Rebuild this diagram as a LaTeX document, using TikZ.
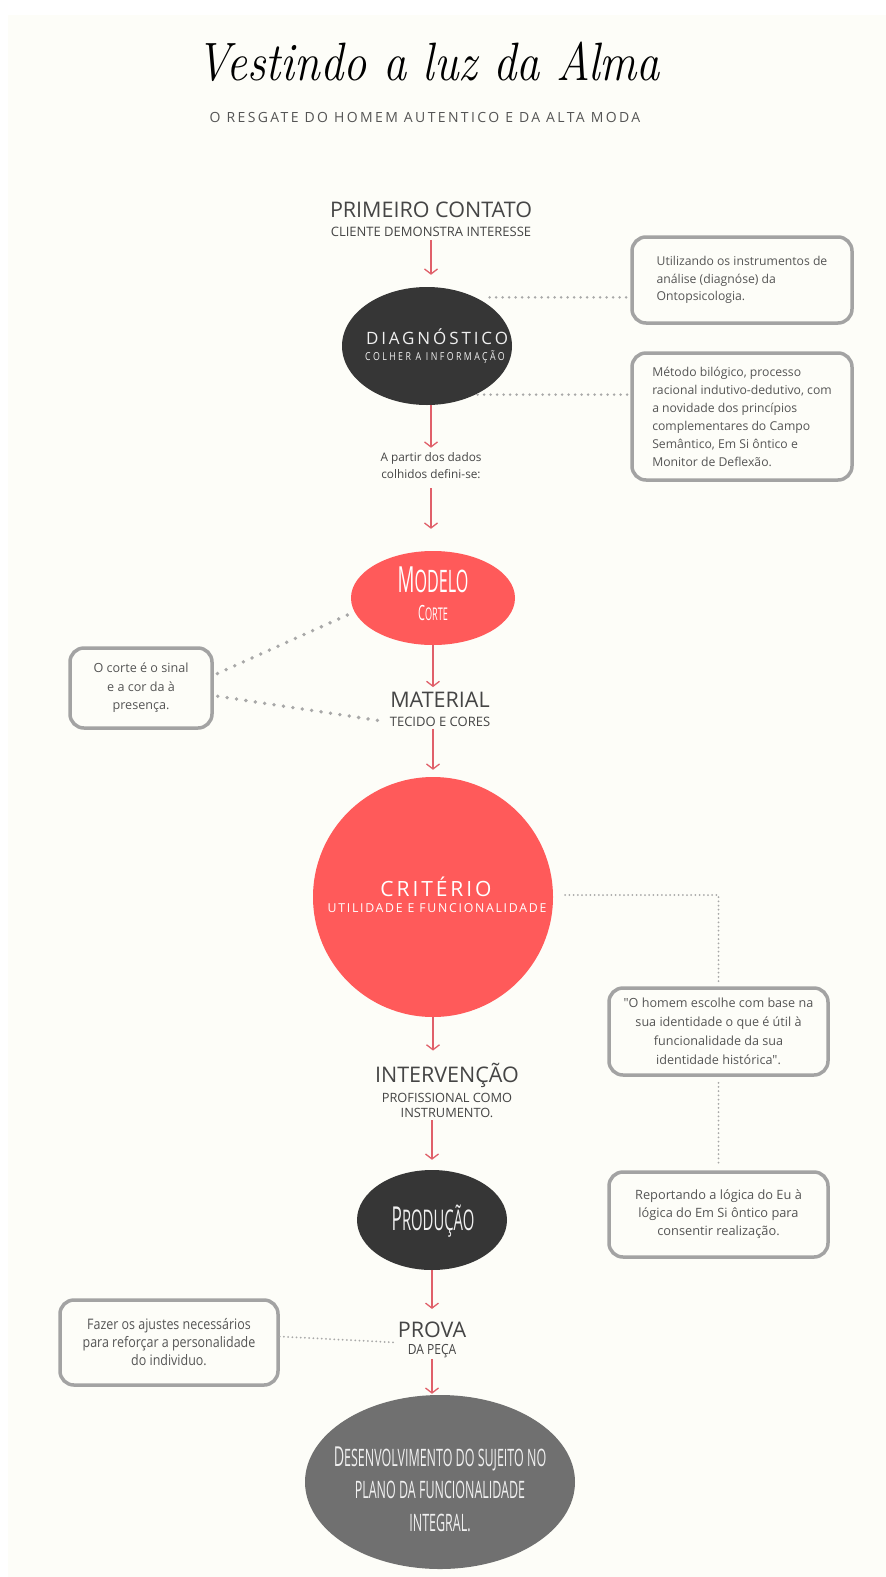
\documentclass[tikz,border=0pt]{standalone}
\usepackage{fontspec}
\usetikzlibrary{shapes.geometric,arrows.meta}
\newfontfamily\osans{Open Sans}
\newfontfamily\amatic[FakeStretch=0.52]{Open Sans}
\newfontfamily\spaced[LetterSpace=17]{Open Sans}
\newfontfamily\wide[LetterSpace=17]{Open Sans}
\newfontfamily\crit[LetterSpace=14]{Open Sans}
\newfontfamily\colher[FakeStretch=0.8,LetterSpace=22]{Open Sans}
\newfontfamily\narrow[FakeStretch=0.86]{Open Sans}
\definecolor{bg}{HTML}{FDFDF8}
\definecolor{coral}{HTML}{FF5A5A}
\definecolor{dark}{HTML}{363636}
\definecolor{midgray}{HTML}{707070}
\definecolor{arrowred}{HTML}{E0606A}
\definecolor{boxgray}{HTML}{A3A3A3}
\definecolor{dotgray}{HTML}{A8A8A8}
\definecolor{txt}{HTML}{454545}
\definecolor{boxtxt}{HTML}{555555}
\definecolor{light}{HTML}{F0F0F0}
\tikzset{
  flow/.style={arrowred, line width=1.3pt, -{Straight Barb[length=5pt,width=13pt]}},
  dotsthick/.style={dotgray, line width=3.8pt, line cap=round, dash pattern=on 0pt off 9.5pt},
  dotsmid/.style={dotgray, line width=2.8pt, line cap=round, dash pattern=on 0pt off 6.5pt},
  dotsfine/.style={dotgray, line width=2pt, line cap=round, dash pattern=on 0pt off 4.2pt},
  head/.style={text=txt, inner sep=1pt, font=\osans\fontsize{21.5}{23}\selectfont},
  subhead/.style={text=txt, inner sep=1pt, align=center, font=\osans\fontsize{13}{15}\selectfont},
  note/.style={draw=boxgray, line width=3.5pt, rounded corners=14pt, text=boxtxt, inner xsep=8pt, inner ysep=4pt},
  blob/.style={ellipse, inner sep=0pt},
}
\begin{document}
\begin{tikzpicture}[x=1pt,y=-1pt]
\useasboundingbox (0,0) rectangle (886,1577);
\fill[white] (0,0) rectangle (886,1577);
\fill[bg] (8,15) rectangle (886,1577);

% title
\node[anchor=base, inner sep=0pt, font=\itshape\fontsize{54}{56}\selectfont] (title) at (428,80) {\scalebox{0.86}[1]{Vestindo a luz da Alma}};
\node[inner sep=0pt, text=boxtxt, font=\spaced\fontsize{14}{16}\selectfont] (subtitle) at (425,117) {O RESGATE DO HOMEM AUTENTICO E DA ALTA MODA};

% primeiro contato
\node[head] (p1) at (431,210) {PRIMEIRO CONTATO};
\node[subhead] (p2) at (431,232) {CLIENTE DEMONSTRA INTERESSE};

% diagnostico
\node[blob, fill=dark, minimum width=170pt, minimum height=118pt] (diag) at (427,346) {};
\node[inner sep=0pt, text=light, font=\wide\fontsize{17}{18}\selectfont] (diagT) at (437,337) {DIAGNÓSTICO};
\node[inner sep=0pt, text=light, font=\colher\fontsize{11}{12}\selectfont] (diagS) at (435,357) {COLHER A INFORMAÇÃO};

% notes top right
\node[note, minimum width=220pt, minimum height=86pt, align=left, font=\osans\fontsize{12.2}{17.5}\selectfont] (b1) at (742,280) {Utilizando os instrumentos de\\análise (diagnóse) da\\Ontopsicologia.};
\node[note, minimum width=220pt, minimum height=127pt, align=left, font=\osans\fontsize{12.2}{18}\selectfont] (b2) at (742,416.5) {Método bilógico, processo\\racional indutivo-dedutivo, com\\a novidade dos princípios\\complementares do Campo\\Semântico, Em Si ôntico e\\Monitor de Deflexão.};

\draw[dotsmid, shorten <=14pt] (diag.45) -- (diag.45 -| b1.west);
\draw[dotsmid, shorten <=2pt] (diag.-45) -- (diag.-45 -| b2.west);

% a partir dos dados
\node[subhead, font=\osans\fontsize{11.8}{17}\selectfont] (apartir) at (431,466) {A partir dos dados\\colhidos defini-se:};

% modelo
\node[blob, fill=coral, minimum width=164pt, minimum height=94pt] (modelo) at (433,598) {};
\node[inner sep=0pt, text=white, font=\amatic] (modT) at (433,580) {\fontsize{36}{36}\selectfont M\fontsize{31}{36}\selectfont ODELO};
\node[inner sep=0pt, text=white, font=\amatic] (modS) at (433,613) {\fontsize{21}{22}\selectfont C\fontsize{17.5}{22}\selectfont ORTE};

% material
\node[head] (m1) at (440,700) {MATERIAL};
\node[subhead] (m2) at (440,722) {TECIDO E CORES};

% left note
\node[note, minimum width=142pt, minimum height=80pt, align=center, font=\osans\fontsize{12.6}{18.5}\selectfont] (lb) at (141,688) {O corte é o sinal\\e a cor da à\\presença.};
\draw[dotsthick, shorten <=4pt] (lb.10) -- (modelo.190);
\draw[dotsthick, shorten <=4pt, shorten >=2pt] (lb.-6) -- (m2.west);

% criterio
\node[circle, fill=coral, minimum size=240pt, inner sep=0pt] (crit) at (433,897) {};
\node[inner sep=0pt, text=white, font=\crit\fontsize{21}{22}\selectfont] (critT) at (436,887) {CRITÉRIO};
\node[inner sep=0pt, text=white, font=\crit\fontsize{12.3}{14}\selectfont] (critS) at (437,908) {UTILIDADE E FUNCIONALIDADE};

% right notes lower
\node[note, minimum width=219pt, minimum height=87pt, align=center, font=\osans\fontsize{12.6}{19}\selectfont] (b3) at (718.5,1031.5) {"O homem escolhe com base na\\sua identidade o que é útil à\\funcionalidade da sua\\identidade histórica".};
\node[note, minimum width=219pt, minimum height=85pt, align=center, font=\osans\fontsize{12.8}{18}\selectfont] (b4) at (718.5,1214.5) {Reportando a lógica do Eu à\\lógica do Em Si ôntico para\\consentir realização.};

\draw[dotsfine, shorten <=12pt, shorten >=4pt] (crit.east) ++(0,-2) -| (b3.north);
\draw[dotsfine, shorten <=6pt, shorten >=6pt] (b3.south) -- (b4.north);

% intervencao
\node[head] (i1) at (447,1075) {INTERVENÇÃO};
\node[subhead, font=\osans\fontsize{12.8}{15.5}\selectfont] (i2) at (447,1105.5) {PROFISSIONAL COMO\\INSTRUMENTO.};

% producao
\node[blob, fill=dark, minimum width=150pt, minimum height=100pt] (prod) at (432,1220) {};
\node[inner sep=0pt, text=light, font=\amatic] (prodT) at (433,1221) {\fontsize{33}{34}\selectfont P\fontsize{28.5}{34}\selectfont RODUÇÃO};

% prova
\node[head] (pv1) at (432,1330) {PROVA};
\node[subhead, font=\narrow\fontsize{14}{16}\selectfont] (pv2) at (432,1351) {DA PEÇA};

\node[note, minimum width=218pt, minimum height=85pt, align=center, font=\narrow\fontsize{14.5}{18}\selectfont] (b5) at (169,1342.5) {Fazer os ajustes necessários\\para reforçar a personalidade\\do individuo.};
\draw[dotsfine, shorten <=5pt, shorten >=5pt] (b5.east) ++(0,-6) -- (pv1.west |- b5.east) ++(0,-6);

% final
\node[blob, fill=midgray, minimum width=270pt, minimum height=174pt] (final) at (440,1482) {};
\node[inner sep=0pt, text=light, align=center, font=\amatic\fontsize{24}{32.5}\selectfont] (finalT) at (440,1489) {{\fontsize{27.5}{32.5}\selectfont D}ESENVOLVIMENTO DO SUJEITO NO\\PLANO DA FUNCIONALIDADE\\INTEGRAL.};

% flow arrows
\draw[flow, shorten <=2pt, shorten >=12pt] (p2.south) -- (p2.south |- diag.north);
\draw[flow, shorten >=4pt] (apartir.north |- diag.south) -- (apartir.north);
\draw[flow, shorten <=8pt, shorten >=22pt] (apartir.south) -- (apartir.south |- modelo.north);
\draw[flow, shorten >=4pt] (modelo.south) -- (modelo.south |- m1.north);
\draw[flow, shorten <=1pt, shorten >=7pt] (crit.north |- m2.south) -- (crit.north);
\draw[flow, shorten >=11pt] (crit.south) -- (crit.south |- i1.north);
\draw[flow, shorten <=1pt, shorten >=10pt] (prod.north |- i2.south) -- (prod.north);
\draw[flow, shorten >=12pt] (prod.south) -- (prod.south |- pv1.north);
\draw[flow, shorten <=0pt, shorten >=1pt] (pv2.south) -- (pv2.south |- final.north);
\end{tikzpicture}
\end{document}
